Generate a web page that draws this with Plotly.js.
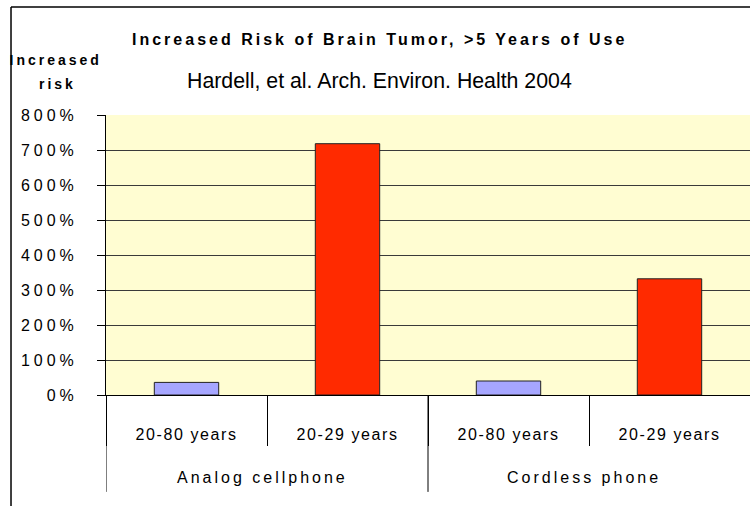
<!DOCTYPE html>
<html>
<head>
<meta charset="utf-8">
<script src="https://cdn.plot.ly/plotly-3.0.1.min.js"></script>
<style>
  html, body { margin: 0; padding: 0; background: #fff; }
  #chart { width: 750px; height: 506px; }
  .xtick text { letter-spacing: 1.6px; }
  .ytick text { letter-spacing: 4px; }
  g.annotation[data-index="0"] text { letter-spacing: 3px; }
  g.annotation[data-index="2"] text, g.annotation[data-index="3"] text { letter-spacing: 3px; }
  g.annotation[data-index="4"] text, g.annotation[data-index="5"] text { letter-spacing: 3px; }
</style>
</head>
<body>
<div id="chart"></div>
<script>
// ---- data ----
const categories = ["20-80 years", "20-29 years", "20-80 years ", "20-29 years "];
const tickLabels = ["20-80 years", "20-29 years", "20-80 years", "20-29 years"];
const groups = ["Analog cellphone", "Cordless phone"];
const riskValues = [36, 718, 40, 332];
const barColors = ["#A6A6FF", "#FF2A00", "#A6A6FF", "#FF2A00"];
const yTicks = [0, 100, 200, 300, 400, 500, 600, 700, 800];
const titleText = "Increased Risk of Brain Tumor, >5 Years of Use";
const subtitleText = "Hardell, et al. Arch. Environ. Health 2004";
const yTitleLines = ["Increased", "risk"];

const FONT = "'Liberation Sans', Arial, sans-serif";

const trace = {
  type: "bar",
  x: categories,
  y: riskValues,
  width: 0.4,
  marker: { color: barColors, line: { color: "#222", width: 1 } },
  hoverinfo: "skip"
};

function ann(text, x, y, size, bold, xref) {
  return { text: text, xref: xref || "paper", yref: "paper", x: x, y: y,
    xanchor: "center", yanchor: "middle", showarrow: false,
    font: { family: FONT, size: size, color: "#000", weight: bold ? "bold" : "normal" } };
}

const annotations = [
  ann(titleText, 0.424, 1.268, 16, true),
  ann(subtitleText, 0.424, 1.121, 21.3, false),
  ann(yTitleLines[0], -0.079, 1.196, 14, true),
  ann(yTitleLines[1], -0.075, 1.11, 14, true)
];
groups.forEach((g, i) => {
  annotations.push(ann(g, 0.47 + 2 * i, -0.296, 16, false, "x"));
});

const shapes = [
  // outer chart frame (left and top edges)
  { type: "line", xref: "paper", yref: "paper", x0: -0.1475, x1: -0.1475, y0: 1.3857, y1: -0.45,
    line: { color: "#000", width: 1.5 } },
  { type: "line", xref: "paper", yref: "paper", x0: -0.1475, x1: 1.05, y0: 1.3857, y1: 1.3857,
    line: { color: "#000", width: 1.5 } },
  // group dividers (long separators)
  { type: "line", xref: "x", yref: "paper", x0: -0.5, x1: -0.5, y0: 0, y1: -0.346,
    line: { color: "#000", width: 1 } },
  { type: "line", xref: "x", yref: "paper", x0: 1.5, x1: 1.5, y0: 0, y1: -0.346,
    line: { color: "#000", width: 1 } }
];

const layout = {
  width: 750, height: 506,
  margin: { l: 106, r: 0, t: 115, b: 111 },
  paper_bgcolor: "#ffffff",
  plot_bgcolor: "#FFFDD2",
  showlegend: false,
  xaxis: {
    type: "category",
    tickmode: "array",
    tickvals: categories,
    ticktext: tickLabels,
    range: [-0.5, 3.5],
    tickson: "boundaries",
    ticks: "outside", ticklen: 50, tickcolor: "#000", tickwidth: 1,
    ticklabelstandoff: 25,
    tickfont: { family: FONT, size: 16, color: "#000" },
    showline: true, linecolor: "#000", linewidth: 1,
    showgrid: false, zeroline: false, fixedrange: true
  },
  yaxis: {
    range: [0, 800],
    tickmode: "array",
    tickvals: yTicks,
    ticktext: yTicks.map(v => v + "%"),
    ticks: "outside", ticklen: 8, tickcolor: "#000", tickwidth: 1,
    ticklabelstandoff: 16,
    tickfont: { family: FONT, size: 16, color: "#000" },
    showgrid: true, gridcolor: "#3a3a3a", gridwidth: 1,
    showline: true, linecolor: "#000", linewidth: 1,
    zeroline: false, fixedrange: true
  },
  annotations: annotations,
  shapes: shapes
};

Plotly.newPlot("chart", [trace], layout, { displayModeBar: false, staticPlot: true });
</script>
</body>
</html>
